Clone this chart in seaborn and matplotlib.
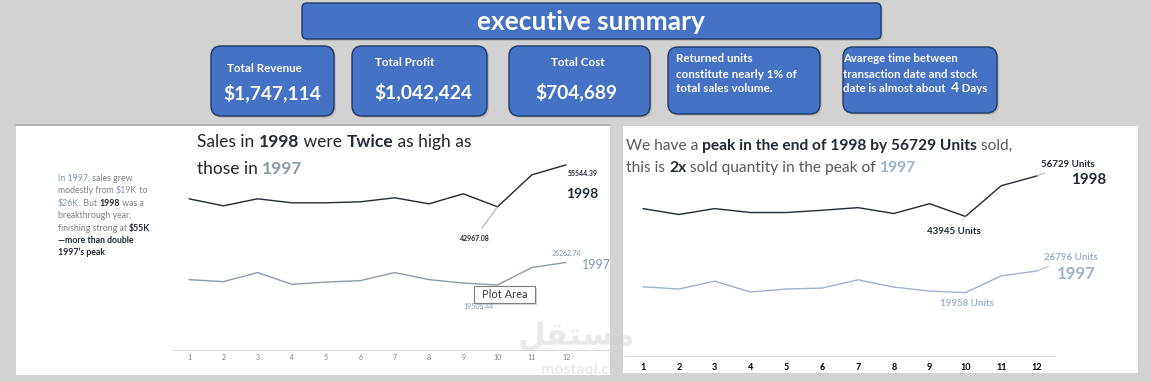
import matplotlib
matplotlib.use("Agg")
import pandas as pd
import matplotlib.pyplot as plt
import seaborn as sns
from matplotlib.patches import FancyBboxPatch, Rectangle

# values
months = list(range(1, 13))
sales_1998 = [45360, 43260, 45360, 44160, 44160, 44460, 45660, 43860, 46860, 42967.08, 52550, 55544.39]
sales_1997 = [21110, 20500, 23230, 19700, 20380, 20810, 23230, 21110, 20080, 19505.44, 24750, 26262.74]
units_1998 = [46420, 44570, 46420, 45190, 45190, 45900, 46730, 44880, 47970, 43945, 53630, 56729]
units_1997 = [21800, 21090, 23580, 20150, 21090, 21400, 23990, 21710, 20460, 19958, 25240, 26796]

kpi_titles = ["Total Revenue", "Total Profit", "Total Cost"]
kpi_values = ["$1,747,114", "$1,042,424", "$704,689"]

NAVY = "#222a35"
GRAYBLUE = "#8497b0"
LIGHTBLUE = "#9fb1cc"
BOXBLUE = "#4472c4"
BOXEDGE = "#1f3864"
W, H = 1151, 382

sns.set_style("white")
plt.rcParams["font.family"] = ["Lato", "DejaVu Sans"]

fig = plt.figure(figsize=(W / 100, H / 100), dpi=100, facecolor="#d2d2d2")

# background layer in pixel coords
bg = fig.add_axes([0, 0, 1, 1], zorder=-1)
bg.set_xlim(0, W)
bg.set_ylim(H, 0)
bg.axis("off")
bg.add_patch(Rectangle((16, 124), 594, 251, fc="white", ec="none"))
bg.plot([16, 610], [124.5, 124.5], color="#a6a6a6", lw=1.2)
bg.add_patch(Rectangle((623, 126), 515, 247, fc="white", ec="none"))


def box(x0, y0, x1, y1, r=8):
    bg.add_patch(FancyBboxPatch((x0 + 2, y0 + 2), x1 - x0, y1 - y0,
                                boxstyle=f"round,pad=0,rounding_size={r}",
                                fc="#a9a9a9", ec="none", alpha=0.6))
    bg.add_patch(FancyBboxPatch((x0, y0), x1 - x0, y1 - y0,
                                boxstyle=f"round,pad=0,rounding_size={r}",
                                fc=BOXBLUE, ec=BOXEDGE, lw=1.0))


box(302, 3, 881, 39, r=5)
for b in [(211, 46, 334, 116), (352, 46, 487, 116), (509, 46, 650, 116),
          (668, 47, 820, 114), (843, 47, 997, 113)]:
    box(*b, r=10)

# chart axes
df_sales = pd.DataFrame({"month": months * 2, "value": sales_1998 + sales_1997,
                         "year": ["1998"] * 12 + ["1997"] * 12})
df_units = pd.DataFrame({"month": months * 2, "value": units_1998 + units_1997,
                         "year": ["1998"] * 12 + ["1997"] * 12})


def chart_axes(left, right, top, bottom, xlim, ylim):
    ax = fig.add_axes([left / W, 1 - bottom / H, (right - left) / W, (bottom - top) / H])
    ax.set_facecolor("none")
    ax.set_xlim(*xlim)
    ax.set_ylim(*ylim)
    sns.despine(ax=ax, left=True)
    ax.spines["bottom"].set_color("#d9d9d9")
    ax.set_yticks([])
    ax.set_xticks(months)
    ax.tick_params(axis="x", length=0)
    return ax


ax1 = chart_axes(172, 610, 150, 350, (0.504, 13.28), (0, 60000))
sns.lineplot(data=df_sales, x="month", y="value", hue="year",
             palette={"1998": NAVY, "1997": "#8c99a8"}, lw=1.0, legend=False, ax=ax1)
ax1.set_xlabel("")
ax1.set_ylabel("")
ax1.set_xticks(months)
ax1.set_xticklabels([str(m) for m in months], fontsize=5, color="#7f7f7f")
ax1.tick_params(axis="x", pad=3)

ax1.annotate(f"{sales_1998[-1]:.2f}", (12, sales_1998[-1]), xytext=(12, -6.5),
             textcoords="offset points", ha="center", va="center",
             fontsize=5, color=NAVY, fontweight="bold")
ax1.annotate("1998", (12, sales_1998[-1]), xytext=(11.5, -21),
             textcoords="offset points", ha="center", va="center",
             fontsize=10, color=NAVY, fontweight="bold")
ax1.annotate(f"{sales_1998[9]:.2f}", (10, sales_1998[9]), xytext=(-16.5, -22.5),
             textcoords="offset points", ha="center", va="center",
             fontsize=5, color=NAVY, fontweight="bold",
             arrowprops=dict(arrowstyle="-", color="#a6a6a6", lw=0.7, shrinkA=3, shrinkB=0))
ax1.annotate(f"{sales_1997[-1]:.2f}", (12, sales_1997[-1]), xytext=(0, 6.5),
             textcoords="offset points", ha="center", va="center",
             fontsize=5, color=GRAYBLUE)
ax1.annotate("1997", (12, sales_1997[-1]), xytext=(21.5, -2),
             textcoords="offset points", ha="center", va="center",
             fontsize=9, color=GRAYBLUE)
ax1.annotate(f"{sales_1997[9]:.2f}", (10, sales_1997[9]), xytext=(-13.5, -15.5),
             textcoords="offset points", ha="center", va="center",
             fontsize=5, color=GRAYBLUE,
             arrowprops=dict(arrowstyle="-", color="#bfbfbf", lw=0.6, shrinkA=2, shrinkB=2))

ax2 = chart_axes(625, 1055, 165.5, 356, (0.497, 12.5), (0, 60000))
sns.lineplot(data=df_units, x="month", y="value", hue="year",
             palette={"1998": NAVY, "1997": LIGHTBLUE}, lw=1.0, legend=False, ax=ax2)
ax2.set_xlabel("")
ax2.set_ylabel("")
ax2.set_xticks(months)
ax2.set_xticklabels([str(m) for m in months], fontsize=6.5, color="black", fontweight="bold")
ax2.tick_params(axis="x", pad=5)

ax2.annotate(f"{units_1998[-1]} Units", (12, units_1998[-1]), xytext=(22, 8.5),
             textcoords="offset points", ha="center", va="center",
             fontsize=7, color=NAVY, fontweight="bold",
             arrowprops=dict(arrowstyle="-", color="#a6a6a6", lw=0.6, shrinkA=2, shrinkB=0))
ax2.annotate("1998", (12, units_1998[-1]), xytext=(37, -3),
             textcoords="offset points", ha="center", va="center",
             fontsize=11, color=NAVY, fontweight="bold")
ax2.annotate(f"{units_1998[9]} Units", (10, units_1998[9]), xytext=(-8, -10.5),
             textcoords="offset points", ha="center", va="center",
             fontsize=7, color=NAVY, fontweight="bold",
             arrowprops=dict(arrowstyle="-", color="#c0c0c0", lw=0.6, shrinkA=2, shrinkB=0))
ax2.annotate(f"{units_1997[-1]} Units", (12, units_1997[-1]), xytext=(24.5, 9.5),
             textcoords="offset points", ha="center", va="center",
             fontsize=7, color=LIGHTBLUE, fontweight="bold",
             arrowprops=dict(arrowstyle="-", color=LIGHTBLUE, lw=0.6, shrinkA=2, shrinkB=0))
ax2.annotate("1997", (12, units_1997[-1]), xytext=(28, -2.5),
             textcoords="offset points", ha="center", va="center",
             fontsize=12, color=LIGHTBLUE, fontweight="bold")
ax2.annotate(f"{units_1997[9]} Units", (10, units_1997[9]), xytext=(1, -7.5),
             textcoords="offset points", ha="center", va="center",
             fontsize=7, color=LIGHTBLUE, fontweight="bold")

# top text layer in pixel coords
top = fig.add_axes([0, 0, 1, 1], zorder=10)
top.set_xlim(0, W)
top.set_ylim(H, 0)
top.axis("off")
top.set_facecolor("none")

renderer = fig.canvas.get_renderer()


def text_width(s, size, weight):
    t1 = top.text(0, 0, s + "|", fontsize=size, fontweight=weight)
    t2 = top.text(0, 0, "|", fontsize=size, fontweight=weight)
    w = t1.get_window_extent(renderer).width - t2.get_window_extent(renderer).width
    t1.remove()
    t2.remove()
    return w


def rich(x, y, parts, size):
    for part in parts:
        s, color, weight = part[:3]
        sz = part[3] if len(part) > 3 else size
        top.text(x, y, s, fontsize=sz, color=color, fontweight=weight, va="baseline", ha="left")
        x += text_width(s, sz, weight)


top.text(591, 22, "executive summary", fontsize=19, color="white", fontweight="bold",
         ha="center", va="center")
kpi_pos = [(264, 68, 272, 93), (405, 62, 423, 92), (578, 63, 576, 92)]
for (tx, ty, vx, vy), t, v in zip(kpi_pos, kpi_titles, kpi_values):
    top.text(tx, ty, t, fontsize=8.4, color="white", fontweight="bold", ha="center", va="center")
    top.text(vx, vy, v, fontsize=13.8, color="white", fontweight="bold", ha="center", va="center")

for i, line in enumerate(["Returned units", "constitute nearly 1% of", "total sales volume."]):
    top.text(676, 59 + i * 15, line, fontsize=8.4, color="white", fontweight="bold", va="center")
for i, line in enumerate(["Avarege time between", "transaction date and stock"]):
    top.text(843, 59 + i * 15, line, fontsize=8.2, color="white", fontweight="bold", va="center")
rich(843, 92.5, [("date is almost about  ", "white", "bold"), ("4", "white", "bold", 10),
                 (" Days", "white", "bold")], 8.2)

# left panel texts
rich(197, 147, [("Sales in ", "#262626", "normal"), ("1998", NAVY, "bold"),
                (" were ", "#262626", "normal"), ("Twice", NAVY, "bold"),
                (" as high as", "#262626", "normal")], 12.5)
rich(197, 174, [("those in ", "#262626", "normal"), ("1997", "#8c99a8", "bold")], 12.5)

G = "#7f7f7f"
note = [
    [("In 1997", GRAYBLUE, "normal"), (", sales grew", G, "normal")],
    [("modestly from ", G, "normal"), ("$19K", GRAYBLUE, "normal"), (" to", G, "normal")],
    [("$26K", GRAYBLUE, "normal"), (". But ", G, "normal"), ("1998", NAVY, "bold"), (" was a", G, "normal")],
    [("breakthrough year,", G, "normal")],
    [("finishing strong at ", G, "normal"), ("$55K", NAVY, "bold")],
    [("\u2014more than double", NAVY, "bold")],
    [("1997\u2019s peak", NAVY, "bold")],
]
for i, parts in enumerate(note):
    rich(58, 181 + i * 12.4, parts, 6.3)

# right panel title
rich(626, 150, [("We have a ", "#595959", "normal"),
                ("peak in the end of 1998 by 56729 Units", NAVY, "bold"),
                (" sold,", "#595959", "normal")], 11.2)
rich(626, 172, [("this is ", "#595959", "normal"), ("2x", NAVY, "bold"),
                (" sold quantity in the peak of ", "#595959", "normal"),
                ("1997", LIGHTBLUE, "bold")], 11.2)

# excel tooltip left on the chart
top.add_patch(Rectangle((476, 288), 61, 17, fc="#bfbfbf", ec="none", alpha=0.6))
top.add_patch(Rectangle((474, 286), 61, 17, fc="white", ec="#7f7f7f", lw=0.8))
top.text(504.5, 294.5, "Plot Area", fontsize=8, color="#404040", ha="center", va="center")

# watermark
top.text(577, 336, "\uFEDE\uFED8\uFE98\uFEB4\uFEE3", fontsize=23, color="#d0d0d0", alpha=0.45,
         ha="center", va="center", family="DejaVu Sans", fontweight="bold")
top.text(580, 370, "mostaql.co", fontsize=11.5, color="#d0d0d0", alpha=0.45,
         ha="center", va="center", fontweight="bold")

fig.savefig("out.png", dpi=100, facecolor=fig.get_facecolor())
